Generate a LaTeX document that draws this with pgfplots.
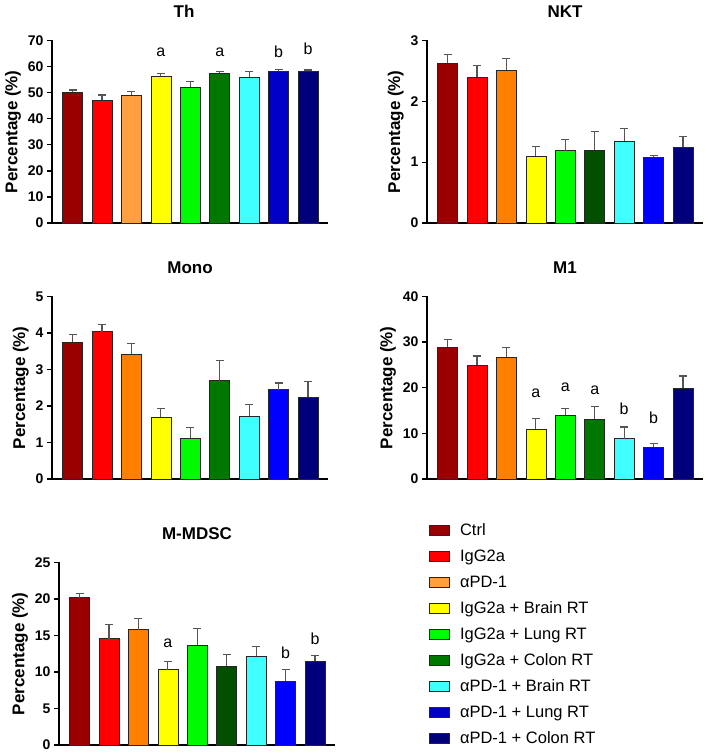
\documentclass[border=0pt]{standalone}
\usepackage{fontspec}
\setmainfont{Liberation Sans}
\usepackage{pgfplots}
\pgfplotsset{compat=1.18}
\definecolor{cctrl}{RGB}{155,0,0}
\definecolor{cigg}{RGB}{255,0,0}
\definecolor{capdlight}{RGB}{255,160,64}
\definecolor{capd}{RGB}{255,128,0}
\definecolor{cbrain}{RGB}{255,255,0}
\definecolor{clung}{RGB}{0,250,0}
\definecolor{ccolon}{RGB}{0,120,0}
\definecolor{ccolondark}{RGB}{0,80,0}
\definecolor{capdbrain}{RGB}{64,255,255}
\definecolor{capdlungdark}{RGB}{0,0,200}
\definecolor{capdlung}{RGB}{0,0,255}
\definecolor{capdcolon}{RGB}{0,0,125}
\definecolor{errgray}{RGB}{85,85,85}
\newcommand{\B}[4]{\addplot[ybar, bar width=0.68, bar shift=0pt, fill=#1, draw=black!85, line width=0.7pt,
  error bars/.cd, y dir=plus, y explicit, error mark=|, error bar style={errgray, line width=1.1pt},
  error mark options={errgray, line width=1.1pt, mark size=4pt}] coordinates {(#2,#3) +- (0,#4)};}
\newcommand{\lab}[3]{\node[font=\fontsize{16}{16}\selectfont] at (axis cs:#1,#2) {#3};}
\newcommand{\LI}[1]{\addlegendimage{fill=#1, draw=black!85, line width=0.7pt}}
\pgfplotsset{
 panel/.style={
  scale only axis, width=276pt, height=182.5pt, anchor=south west,
  axis x line=bottom, axis y line=left,
  axis line style={-, line width=1.3pt, black},
  xmin=-0.7, xmax=8.68, ymin=0, xtick=\empty,
  tick align=outside, major tick length=5pt,
  ytick style={line width=1.3pt, black},
  yticklabel style={font=\fontsize{14}{14}\selectfont\bfseries},
  /pgf/number format/assume math mode=true,
  ylabel={Percentage (\%)},
  ylabel style={font=\fontsize{17}{17}\selectfont\bfseries},
  title style={font=\fontsize{17}{17}\selectfont\bfseries, at={(0.5,1)}, anchor=center, yshift=23pt},
  clip=false,
 }
}
\begin{document}
\begin{tikzpicture}
\useasboundingbox (0pt,0pt) rectangle (709pt,755pt);
% Th
\begin{axis}[panel, at={(52pt,532pt)}, ymax=70, ytick distance=10, title={Th}, title style={xshift=-6pt}]
\B{cctrl}{0}{50.1}{0.9}
\B{cigg}{1}{47.2}{1.9}
\B{capdlight}{2}{49.1}{1.3}
\B{cbrain}{3}{56.2}{1.0}
\B{clung}{4}{52.2}{2.1}
\B{ccolon}{5}{57.5}{0.7}
\B{capdbrain}{6}{55.9}{2.1}
\B{capdlungdark}{7}{58.2}{0.6}
\B{capdcolon}{8}{58.2}{0.5}
\lab{3}{65.3}{a}
\lab{5}{65.3}{a}
\lab{7}{65.8}{b}
\lab{8}{67.0}{b}
\end{axis}
% NKT
\begin{axis}[panel, at={(427pt,532pt)}, ymax=3, ytick distance=1, title={NKT}]
\B{cctrl}{0}{2.63}{0.14}
\B{cigg}{1}{2.40}{0.195}
\B{capd}{2}{2.51}{0.19}
\B{cbrain}{3}{1.10}{0.16}
\B{clung}{4}{1.19}{0.18}
\B{ccolondark}{5}{1.20}{0.31}
\B{capdbrain}{6}{1.35}{0.21}
\B{capdlung}{7}{1.08}{0.035}
\B{capdcolon}{8}{1.25}{0.17}
\end{axis}
% Mono
\begin{axis}[panel, at={(52pt,276pt)}, ymax=5, ytick distance=1, title={Mono}]
\B{cctrl}{0}{3.74}{0.22}
\B{cigg}{1}{4.04}{0.20}
\B{capd}{2}{3.42}{0.29}
\B{cbrain}{3}{1.69}{0.23}
\B{clung}{4}{1.12}{0.29}
\B{ccolon}{5}{2.69}{0.56}
\B{capdbrain}{6}{1.72}{0.33}
\B{capdlung}{7}{2.45}{0.18}
\B{capdcolon}{8}{2.25}{0.42}
\end{axis}
% M1
\begin{axis}[panel, at={(427pt,276pt)}, ymax=40, ytick distance=10, title={M1}]
\B{cctrl}{0}{28.95}{1.65}
\B{cigg}{1}{24.95}{2.0}
\B{capd}{2}{26.76}{2.0}
\B{cbrain}{3}{10.98}{2.2}
\B{clung}{4}{13.96}{1.4}
\B{ccolon}{5}{13.16}{2.7}
\B{capdbrain}{6}{8.8}{2.6}
\B{capdlung}{7}{6.98}{0.72}
\B{capdcolon}{8}{19.93}{2.65}
\lab{3}{18.8}{a}
\lab{4}{20.2}{a}
\lab{5}{19.5}{a}
\lab{6}{15.3}{b}
\lab{7}{13.5}{b}
\end{axis}
% M-MDSC
\begin{axis}[panel, at={(59pt,10pt)}, ymax=25, ytick distance=5, title={M-MDSC},
  legend entries={Ctrl, IgG2a, αPD-1, IgG2a + Brain RT, IgG2a + Lung RT, IgG2a + Colon RT, αPD-1 + Brain RT, αPD-1 + Lung RT, αPD-1 + Colon RT},
  legend style={at={(1.341,1.213)}, anchor=north west, draw=none, fill=none, inner sep=0pt,
    font=\fontsize{16.5}{16.5}\selectfont, row sep=12.8pt, column sep=10pt, cells={anchor=west}, nodes={inner sep=0pt}},
  legend image code/.code={\draw[#1] (0pt,-5pt) rectangle (20pt,5pt);}]
\LI{cctrl}
\LI{cigg}
\LI{capdlight}
\LI{cbrain}
\LI{clung}
\LI{ccolon}
\LI{capdbrain}
\LI{capdlungdark}
\LI{capdcolon}
\B{cctrl}{0}{20.18}{0.62}
\B{cigg}{1}{14.55}{1.9}
\B{capd}{2}{15.8}{1.5}
\B{cbrain}{3}{10.3}{1.15}
\B{clung}{4}{13.7}{2.25}
\B{ccolondark}{5}{10.8}{1.6}
\B{capdbrain}{6}{12.2}{1.25}
\B{capdlung}{7}{8.77}{1.53}
\B{capdcolon}{8}{11.45}{0.82}
\lab{3}{13.95}{a}
\lab{7}{12.6}{b}
\lab{8}{14.6}{b}
\end{axis}
\end{tikzpicture}
\end{document}
